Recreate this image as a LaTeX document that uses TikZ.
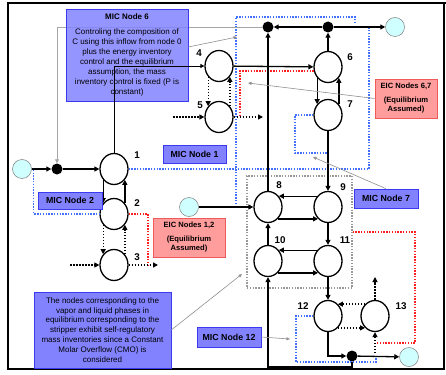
\documentclass[tikz,border=0pt]{standalone}
\usepackage{fontspec}
\setmainfont{Liberation Sans}
\usetikzlibrary{arrows.meta,shapes.geometric}
\definecolor{MicBlue}{HTML}{8282FF}
\definecolor{MicEdge}{HTML}{3A3AF0}
\definecolor{EicPink}{HTML}{FF9C9C}
\definecolor{EicEdge}{HTML}{F05A5A}
\definecolor{SrcCyan}{HTML}{CFFFFF}
\definecolor{LoopBlue}{HTML}{4270FF}
\definecolor{LoopRed}{HTML}{FF1F1F}
\definecolor{LinkGray}{HTML}{8F8F8F}

\begin{document}
\begin{tikzpicture}[x=1pt,y=-1pt]
\tikzset{nd/.style={ellipse,draw,line width=1.3pt,minimum width=28pt,minimum height=31pt,inner sep=0pt},
num/.style={font=\fontsize{9.8}{10}\selectfont\bfseries,inner sep=0pt},
src/.style={circle,draw=black!50,line width=.5pt,fill=SrcCyan,minimum size=19pt,inner sep=0pt},
jn/.style={circle,fill=black,minimum size=11pt,inner sep=0pt},
fl/.style={line width=1.3pt,-{Triangle[length=5pt,width=5pt]}},
dl/.style={fl,dash pattern=on 1.5pt off 1.5pt},
tl/.style={line width=.8pt,-{Triangle[length=4pt,width=4pt]}},
bl/.style={LoopBlue,line width=1.4pt,dash pattern=on 1.4pt off 1.4pt},
rd/.style={bl,LoopRed},
gbox/.style={draw=black!40,line width=1.3pt,dash pattern=on 1.4pt off 1.4pt,minimum width=105pt,minimum height=112pt,inner sep=0pt},
co/.style={LinkGray,line width=.6pt,-{Triangle[length=3.5pt,width=3pt]}},
mic/.style={fill=MicBlue,draw=MicEdge,line width=.6pt,inner sep=0pt,align=center,font=\fontsize{8.8}{9}\selectfont\bfseries},
eic/.style={mic,fill=EicPink,draw=EicEdge,font=\fontsize{7.6}{9}\selectfont\bfseries},
note/.style={mic,font=\fontsize{8}{9.9}\selectfont}}
\useasboundingbox (0,0) rectangle (446,374);
\draw[line width=1.2pt] (8,3) rectangle (444,369);
\draw[line width=2pt] (8,3) -- (446,3);

% inventory nodes
\node[nd] (n1) at (114,169) {};
\node[nd] (n2) at (114,214) {};
\node[nd] (n3) at (114,265) {};
\node[nd] (n4) at (219,66) {};
\node[nd] (n5) at (219,117) {};
\node[nd] (n6) at (328,67) {};
\node[nd] (n7) at (328,115) {};
\node[nd] (n8) at (268,207) {};
\node[nd] (n9) at (328,207) {};
\node[nd] (n10) at (268,261) {};
\node[nd] (n11) at (328,261) {};
\node[nd] (n12) at (328,316) {};
\node[nd] (n13) at (375,316) {};
\node[num] (l1) at (137,155) {1};
\node[num] (l2) at (137,203) {2};
\node[num] (l3) at (137,257) {3};
\node[num] (l4) at (199,53) {4};
\node[num] (l5) at (200,105) {5};
\node[num] (l6) at (350,57) {6};
\node[num] (l7) at (350,104) {7};
\node[num] (l8) at (279,185) {8};
\node[num] (l9) at (343,187) {9};
\node[num] (l10) at (280,240) {10};
\node[num] (l11) at (345,240) {11};
\node[num] (l12) at (303,306) {12};
\node[num] (l13) at (401,306) {13};

% sources, sinks and junctions
\node[src] (s0) at (22,169) {};
\node[src] (s1) at (395,27) {};
\node[src] (s2) at (189,207) {};
\node[src] (s3) at (409,357) {};
\node[jn] (j1) at (57,169) {};
\node[jn] (j2) at (268,27) {};
\node[jn] (j3) at (328,27) {};
\node[jn] (j4) at (352,356) {};

\coordinate (i3) at (70,265);
\coordinate (o3) at (158,265);
\coordinate (r3) at (148,265);
\coordinate (i5) at (173,117);
\coordinate (o5) at (263,117);
\coordinate (r5) at (240,117);
\coordinate (o13) at (375,277);
\coordinate (i13) at (375,353);
\coordinate (b1) at (369,26);
\coordinate (b5) at (355,17);
\coordinate (b6) at (236,207);
\coordinate (b7) at (295,153);
\coordinate (b12) at (296,362);
\coordinate (b13) at (376,355);
\coordinate (r10) at (415,343);
\coordinate (r11) at (376,343);
\coordinate (t6) at (237,37);
\coordinate (t67) at (248,83);
\coordinate (t7) at (313,157);
\coordinate (t12) at (290,339);
\coordinate (tg) at (242,274);

% control loops
\node[gbox] (grp) at (299.5,232) {};
\draw[bl] (s0.east) -- ++(2,0) |- (n2);
\draw[bl] (n1.east) -| (b1);
\draw[bl] (b6) |- (b5) -- ++(0,5);
\draw[bl] (n7.west) -| (b7) -- (b7 -| n7);
\draw[bl] (n12.west) -| (b12) -| (b13);
\draw[rd] (n2.east) -| (r3);
\draw[rd] (n6.-165) -| (r5);
\draw[rd] (grp.east) -| (r10) -- (r11);
\draw[tl,black!35] (j2) -| (j1);

\node[note,minimum width=122pt,minimum height=92pt,fill opacity=.85,text opacity=1] (m6) at (127,55) {\textbf{MIC Node 6}\\[5pt]Controling the composition of\\C using this inflow from node 0\\plus the energy inventory\\control and the equilibrium\\assumption, the mass\\inventory control is fixed (P is\\constant)};

% flows
\draw[fl] (s0) -- (j1);
\draw[fl] (j1) -- (n1);
\draw[tl] (n1) |- (n4);
\draw[fl] (n1.-135) -- (n2.135);
\draw[fl] (n2.45) -- (n1.-45);
\draw[dl] (n2.-135) -- (n3.135);
\draw[dl] (n3.45) -- (n2.-45);
\draw[dl] (i3) -- (n3);
\draw[dl] (n3) -- (o3);
\draw[dl] (n4.-135) -- (n5.135);
\draw[dl] (n5.45) -- (n4.-45);
\draw[dl] (i5) -- (n5);
\draw[dl] (n5) -- (o5);
\draw[fl] (n4) -- (n6);
\draw[fl] (n6.-135) -- (n7.135);
\draw[fl] (n7.45) -- (n6.-45);
\draw[fl] (n6) -- (j3);
\draw[fl] (j3) -- (j2);
\draw[fl] (j3) -- (s1);
\draw[fl] (n8) -- (j2);
\draw[fl] (n7) -- (n9);
\draw[fl] (s2) -- (n8);
\draw[fl] (n9.135) -- (n8.45);
\draw[fl] (n8.-50) -- (n9.-130);
\draw[fl] (n11.135) -- (n10.45);
\draw[fl] (n10.-50) -- (n11.-130);
\draw[fl] (n9) -- (n11);
\draw[fl] (n10) -- (n8);
\draw[fl] (n11) -- (n12);
\draw[dl] (n13.130) -- (n12.50);
\draw[dl] (n12.-50) -- (n13.-130);
\draw[dl] (n13) -- (o13);
\draw[dl] (i13) -- (n13);
\draw[fl] (n12) |- (j4);
\draw[fl] (j4) -- (s3);
\draw[fl] (j4) -- ++(0,11) -| (n10);

% labels
\node[mic,minimum width=63pt,minimum height=18pt] (m1) at (194.5,154) {MIC Node 1};
\node[mic,minimum width=64pt,minimum height=17pt] (m2) at (70,200.5) {MIC Node 2};
\node[mic,minimum width=64pt,minimum height=19pt] (m7) at (386,198.5) {MIC Node 7};
\node[mic,minimum width=64pt,minimum height=20pt] (m12) at (229,337) {MIC Node 12};
\node[eic,minimum width=72pt,minimum height=39pt] (e12) at (189,237.5) {EIC Nodes 1,2\\[5pt](Equilibrium\\Assumed)};
\node[eic,minimum width=62pt,minimum height=39pt] (e67) at (406,98.5) {EIC Nodes 6,7\\[5pt](Equilibrium\\Assumed)};
\node[note,minimum width=137pt,minimum height=76pt] (cmo) at (102.5,330) {The nodes corresponding to the\\vapor and liquid phases in\\equilibrium corresponding to the\\stripper exhibit self-regulatory\\mass inventories since a Constant\\Molar Overflow (CMO) is\\considered};
\draw[co] ([yshift=8pt]m6.east) -- (t6);
\draw[co] (e67.west) -- (t67);
\draw[co] (m7.north) -- (t7);
\draw[co] (m12.east) -- (t12);
\draw[co] (cmo.east) -- (tg);
\end{tikzpicture}
\end{document}
